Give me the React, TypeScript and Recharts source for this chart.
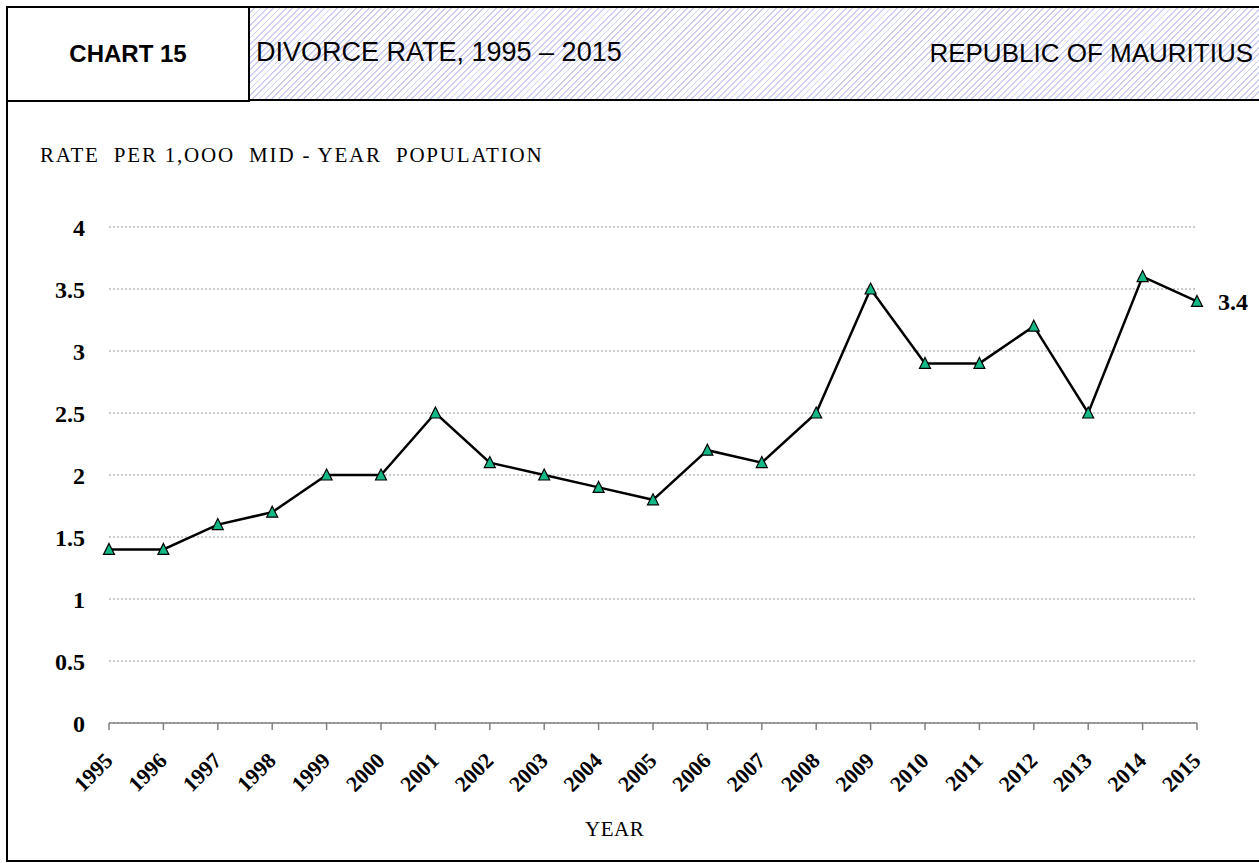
import { LineChart, Line, XAxis, YAxis, CartesianGrid } from 'recharts'

const years = ['1995', '1996', '1997', '1998', '1999', '2000', '2001', '2002', '2003', '2004', '2005', '2006', '2007', '2008', '2009', '2010', '2011', '2012', '2013', '2014', '2015']
const rates = [1.4, 1.4, 1.6, 1.7, 2.0, 2.0, 2.5, 2.1, 2.0, 1.9, 1.8, 2.2, 2.1, 2.5, 3.5, 2.9, 2.9, 3.2, 2.5, 3.6, 3.4]
const yTicks = [0, 0.5, 1, 1.5, 2, 2.5, 3, 3.5, 4]

const data = years.map((year, i) => ({ year, rate: rates[i] }))

const serif = '"Liberation Serif", "DejaVu Serif", serif'
const sans = '"Liberation Sans", Arial, sans-serif'

function Triangle(props: any) {
  const { cx, cy } = props
  if (cx == null || cy == null) return null
  return (
    <path
      d={`M${cx},${cy - 6} L${cx + 5.5},${cy + 5} L${cx - 5.5},${cy + 5} Z`}
      fill="#12b886"
      stroke="#000"
      strokeWidth={1.2}
    />
  )
}

function YearTick(props: any) {
  const { x, y, payload } = props
  const ax = x + 5
  const ay = y + 30
  return (
    <text
      x={ax}
      y={ay}
      textAnchor="end"
      transform={`rotate(-45, ${ax}, ${ay})`}
      fontFamily={serif}
      fontWeight="bold"
      fontSize={22}
      fill="#000"
    >
      {payload.value}
    </text>
  )
}

function LastLabel(props: any) {
  const { x, y, index, value } = props
  if (index !== rates.length - 1) return null
  return (
    <text x={x + 21} y={y + 9} fontFamily={serif} fontWeight="bold" fontSize={24} fill="#000">
      {value}
    </text>
  )
}

export default function App() {
  return (
    <div style={{ position: 'absolute', left: 0, top: 0, width: 1259, height: 863, background: '#fff', overflow: 'hidden' }}>
      <div style={{ position: 'absolute', left: 6, top: 6, width: 1262, height: 852, border: '2px solid #000' }} />
      <div
        style={{
          position: 'absolute', left: 8, top: 8, width: 240, height: 92, borderRight: '2px solid #000', borderBottom: '2px solid #000',
          display: 'flex', alignItems: 'center', justifyContent: 'center', fontFamily: sans, fontWeight: 'bold', fontSize: 24, color: '#000',
        }}
      >
        CHART 15
      </div>
      <div
        style={{
          position: 'absolute', left: 250, top: 8, width: 1020, height: 91, borderBottom: '2px solid #000',
          background: 'repeating-linear-gradient(-45deg, #ffffff 0px, #ffffff 3.2px, #cdcef3 3.2px, #cdcef3 4.5px)',
        }}
      />
      <div style={{ position: 'absolute', left: 256, top: 37, fontFamily: sans, fontSize: 27, color: '#000', whiteSpace: 'nowrap' }}>
        DIVORCE RATE, 1995 – 2015
      </div>
      <div style={{ position: 'absolute', right: 6, top: 38, fontFamily: sans, fontSize: 26, color: '#000', whiteSpace: 'nowrap' }}>
        REPUBLIC OF MAURITIUS
      </div>
      <div style={{ position: 'absolute', left: 40, top: 143, fontFamily: serif, fontSize: 21, letterSpacing: 1.8, color: '#000', whiteSpace: 'nowrap' }}>
        RATE&nbsp; PER 1,OOO&nbsp; MID - YEAR&nbsp; POPULATION
      </div>
      <div style={{ position: 'absolute', left: 585, top: 817, fontFamily: serif, fontSize: 21, letterSpacing: 0.5, color: '#000' }}>
        YEAR
      </div>
      <div style={{ position: 'absolute', left: 0, top: 0 }}>
        <LineChart width={1259} height={863} data={data} margin={{ top: 227, right: 62, bottom: 0, left: 0 }}>
          <CartesianGrid vertical={false} stroke="#999" strokeDasharray="2 2" />
          <XAxis
            dataKey="year"
            interval={0}
            tick={<YearTick />}
            axisLine={{ stroke: '#808080', strokeWidth: 1.5 }}
            tickLine={{ stroke: '#808080', strokeWidth: 1.5 }}
            tickSize={7}
            height={140}
          />
          <YAxis
            width={109}
            domain={[0, 4]}
            ticks={yTicks}
            axisLine={false}
            tickLine={false}
            tickSize={0}
            tickMargin={24}
            tick={{ fontFamily: serif, fontWeight: 'bold', fontSize: 24, fill: '#000' }}
          />
          <Line
            type="linear"
            dataKey="rate"
            stroke="#000"
            strokeWidth={2.5}
            dot={<Triangle />}
            activeDot={false}
            label={<LastLabel />}
            isAnimationActive={false}
          />
        </LineChart>
      </div>
    </div>
  )
}
